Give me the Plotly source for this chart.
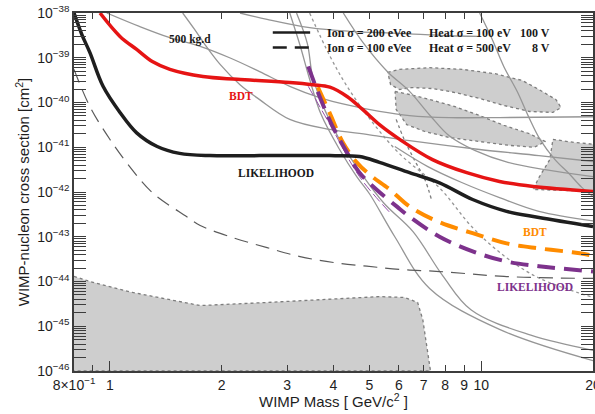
import plotly.graph_objects as go

# ---------------- data ----------------
# thick solid curves (Ion 200 eVee / Heat 100 eV / 100 V)
lik_solid_mass = [0.80, 0.84, 0.883, 0.958, 1.064, 1.18, 1.34, 1.54, 1.86, 2.53, 3.91, 4.70, 5.32, 6.41, 7.72, 9.48, 11.7, 14.3, 20.0]
lik_solid_xs = [1e-38, 3.3e-39, 1.3e-39, 2.3e-40, 6.0e-41, 2.1e-41, 1.04e-41, 7.3e-42, 6.5e-42, 6.5e-42, 6.5e-42, 6.2e-42, 4.6e-42, 2.7e-42, 1.6e-42, 6.8e-43, 3.7e-43, 2.7e-43, 1.7e-43]

bdt_solid_mass = [0.94, 1.064, 1.18, 1.30, 1.45, 1.78, 2.20, 3.05, 3.52, 3.91, 4.35, 4.79, 5.32, 6.03, 7.39, 9.14, 11.2, 13.8, 20.0]
bdt_solid_xs = [1e-38, 3.0e-39, 1.53e-39, 8.2e-40, 5.5e-40, 3.8e-40, 3.3e-40, 2.8e-40, 2.5e-40, 2.2e-40, 1.36e-40, 7.0e-41, 3.2e-41, 1.5e-41, 5.3e-42, 2.7e-42, 1.72e-42, 1.33e-42, 1.03e-42]

# thick dashed curves (Ion 100 eVee / Heat 500 eV / 8 V)
bdt_dash_mass = [3.63, 3.90, 4.24, 4.62, 5.00, 5.67, 6.42, 7.73, 9.48, 11.7, 14.3, 17.6, 20.0]
bdt_dash_xs = [2.2e-40, 6.0e-41, 1.28e-41, 4.6e-42, 2.46e-42, 1.14e-42, 4.7e-43, 2.1e-43, 1.2e-43, 7.1e-44, 5.5e-44, 4.5e-44, 3.8e-44]

lik_dash_mass = [3.42, 3.67, 3.98, 4.35, 4.70, 5.22, 5.93, 6.41, 7.72, 9.48, 11.7, 14.3, 20.0]
lik_dash_xs = [6.4e-40, 1.36e-40, 2.9e-41, 7.6e-42, 2.7e-42, 1.14e-42, 4.7e-43, 2.8e-43, 1.0e-43, 4.7e-44, 2.8e-44, 2.2e-44, 1.67e-44]

lik_thin_mass = [3.42, 3.98, 4.70, 5.67]
lik_thin_xs = [2.3e-40, 2.5e-41, 2.2e-42, 3.5e-43]

# thin long-dashed curve (500 kg.d projection)
proj_mass = [0.80, 0.883, 1.0, 1.13, 1.30, 1.61, 1.75, 2.14, 2.65, 3.25, 4.0, 4.92, 6.07, 7.73, 11.7, 20.0]
proj_xs = [5.5e-40, 8.1e-41, 1.49e-41, 3.7e-42, 9.7e-43, 2.8e-43, 1.78e-43, 9.6e-44, 5.7e-44, 3.6e-44, 2.66e-44, 2.2e-44, 1.85e-44, 1.67e-44, 1.29e-44, 1.17e-44]

# other experiments (thin grey solid lines)
grey_lines = {
    "a": ([0.98, 1.20, 1.45, 1.75, 2.10, 2.53, 3.05, 3.67, 4.42, 5.32, 6.41, 8.2, 11.2, 20.0],
          [1e-38, 5.0e-39, 2.8e-39, 1.8e-39, 1.0e-39, 4.9e-40, 2.3e-40, 1.29e-40, 8.6e-41, 6.3e-41, 5.1e-41, 4.6e-41, 4.6e-41, 4.8e-41]),
    "b": ([1.57, 1.69, 1.80, 1.98, 2.24, 2.53, 3.05, 3.91, 5.0, 6.41, 9.9, 14.3, 20.0],
          [1e-38, 4.3e-39, 2.0e-39, 7.1e-40, 2.5e-40, 1.16e-40, 4.2e-41, 2.5e-41, 1.9e-41, 1.4e-41, 8.9e-42, 6.5e-42, 4.8e-42]),
    "c": ([4.25, 4.80, 5.6, 6.4, 7.3, 8.2, 9.6, 11.8, 20.0],
          [1e-38, 2.2e-39, 4.8e-40, 1.8e-40, 5.0e-41, 1.8e-41, 8.5e-42, 4.6e-42, 2.2e-42]),
    "d": ([9.9, 10.7, 11.5, 12.5, 13.4, 14.4, 15.8, 17.3, 18.6, 20.0],
          [1e-38, 2.6e-39, 6.4e-40, 1.76e-40, 4.9e-41, 1.5e-41, 5.3e-42, 2.5e-42, 1.3e-42, 7.9e-43]),
    "e": ([2.24, 2.65, 3.45, 4.42, 6.03, 8.2, 9.8],
          [1e-38, 7.2e-39, 4.7e-39, 3.9e-39, 3.5e-39, 3.1e-39, 3.0e-39]),
    "f": ([5.85, 7.18, 8.86, 11.2, 14.3, 20.5],
          [1.04e-41, 3.7e-42, 1.63e-42, 7.5e-43, 3.7e-43, 2.2e-43]),
    "s1": ([3.18, 3.40, 3.52, 3.80, 4.21, 4.75, 5.47, 6.55, 7.88, 9.4, 13.6, 20.0],
           [1e-38, 2.1e-39, 3.6e-40, 6.5e-41, 1.2e-41, 2.6e-42, 5.6e-43, 1.3e-43, 1.34e-44, 2.3e-45, 6.3e-46, 2.9e-46]),
    "s2": ([3.05, 3.25, 3.45, 3.70, 4.15, 4.62, 5.01, 5.85, 7.26, 11.2, 20.0],
           [1e-38, 1.9e-39, 3.3e-40, 5.5e-41, 9.0e-42, 2.2e-42, 8.9e-43, 1.0e-43, 7.0e-45, 8.5e-46, 1.7e-46]),
}

# dotted grey curves
dot_mass = [3.45, 3.91, 4.35, 5.01, 6.03, 7.73, 9.48, 11.7, 14.3, 20.0]
dot_xs = [1e-38, 1.1e-39, 2.3e-40, 4.3e-41, 7.1e-42, 1.22e-42, 1.6e-43, 3.4e-44, 1.2e-44, 4.4e-45]

contour_mass = [5.9, 6.2, 6.6, 7.05, 7.34]
contour_xs = [4.2e-41, 1.5e-41, 5.3e-42, 1.9e-42, 6.8e-43]

# shaded regions
floor_mass = [0.80, 0.883, 1.15, 1.75, 2.65, 4.0, 5.33, 6.22, 6.74, 6.96, 7.13, 7.30]
floor_xs = [1.3e-44, 1.0e-44, 5.7e-45, 2.9e-45, 3.4e-45, 4.0e-45, 4.6e-45, 4.4e-45, 3.4e-45, 1.4e-45, 3.9e-46, 1e-46]

regionA_mass = [5.6, 6.03, 7.26, 8.9, 10.9, 12.9, 14.3, 15.9, 16.4, 15.6, 13.5, 11.5, 9.9, 8.5, 7.4, 6.5, 6.03, 5.7]
regionA_xs = [4.7e-40, 5.5e-40, 6.0e-40, 5.5e-40, 4.4e-40, 3.1e-40, 1.95e-40, 1.16e-40, 7.7e-41, 6.0e-41, 6.3e-41, 8.6e-41, 1.23e-40, 1.67e-40, 2.05e-40, 2.16e-40, 1.95e-40, 2.5e-40]

regionB_mass = [5.86, 6.41, 7.26, 8.5, 9.9, 11.5, 13.5, 14.9, 13.9, 11.9, 9.9, 8.2, 7.05, 6.3, 5.9]
regionB_xs = [1.76e-40, 1.51e-40, 1.17e-40, 8.1e-41, 5.1e-41, 3.1e-41, 2.0e-41, 1.34e-41, 1.0e-41, 1.1e-41, 1.34e-41, 1.65e-41, 2.25e-41, 3.2e-41, 7.0e-41]

regionC_mass = [15.6, 17.8, 20.5, 20.5, 13.8, 14.3, 15.3]
regionC_xs = [1.5e-41, 1.28e-41, 1.15e-41, 1.03e-42, 1.14e-42, 2.1e-42, 5.3e-42]

x_tickvals = [0.8, 1, 2, 3, 4, 5, 6, 7, 8, 9, 10, 20]
x_ticktext = ["8×10<sup>−1</sup>", "1", "2", "3", "4", "5", "6", "7", "8", "9", "10", "20"]
x_minor_ticks = [0.9]
x_long_ticks = [1, 10]
y_exponents = [-38, -39, -40, -41, -42, -43, -44, -45, -46]

# ---------------- figure ----------------
GREY = "rgb(150,150,150)"
FILL = "rgb(206,206,206)"
EDGE = "rgb(125,125,125)"
AX = "rgb(60,60,60)"

fig = go.Figure()

def region(mx, sx):
    fig.add_trace(go.Scatter(x=mx + [mx[0]], y=sx + [sx[0]], mode="lines", fill="toself",
                             fillcolor=FILL, line=dict(color=EDGE, width=1.3, dash="dot"),
                             hoverinfo="skip", showlegend=False))

fig.add_trace(go.Scatter(x=floor_mass + [floor_mass[0]], y=floor_xs + [1e-46], mode="lines",
                         fill="toself", fillcolor=FILL, line=dict(color=EDGE, width=1.3, dash="dot"),
                         hoverinfo="skip", showlegend=False))
region(regionA_mass, regionA_xs)
region(regionB_mass, regionB_xs)
region(regionC_mass, regionC_xs)

fig.add_trace(go.Scatter(x=contour_mass, y=contour_xs, mode="lines",
                         line=dict(color=EDGE, width=1.3, dash="dot", shape="spline"),
                         hoverinfo="skip", showlegend=False))

for key, (mx, sx) in grey_lines.items():
    fig.add_trace(go.Scatter(x=mx, y=sx, mode="lines", line=dict(color=GREY, width=1.3, shape="spline"),
                             hoverinfo="skip", showlegend=False))

fig.add_trace(go.Scatter(x=dot_mass, y=dot_xs, mode="lines",
                         line=dict(color=GREY, width=1.3, dash="dot", shape="spline"), showlegend=False))

fig.add_trace(go.Scatter(x=proj_mass, y=proj_xs, mode="lines",
                         line=dict(color="rgb(90,90,90)", width=1.2, dash="14px,8px", shape="spline"),
                         showlegend=False))

fig.add_trace(go.Scatter(x=lik_thin_mass, y=lik_thin_xs, mode="lines",
                         line=dict(color="rgb(150,80,170)", width=1.0, dash="10px,4px", shape="spline"),
                         showlegend=False))

fig.add_trace(go.Scatter(x=bdt_dash_mass, y=bdt_dash_xs, mode="lines",
                         line=dict(color="rgb(255,140,0)", width=4, dash="18px,9px", shape="spline"),
                         showlegend=False))
fig.add_trace(go.Scatter(x=lik_dash_mass, y=lik_dash_xs, mode="lines",
                         line=dict(color="rgb(125,50,140)", width=4, dash="18px,9px", shape="spline"),
                         showlegend=False))
fig.add_trace(go.Scatter(x=lik_solid_mass, y=lik_solid_xs, mode="lines",
                         line=dict(color="rgb(30,30,30)", width=3.5, shape="spline"), showlegend=False))
fig.add_trace(go.Scatter(x=bdt_solid_mass, y=bdt_solid_xs, mode="lines",
                         line=dict(color="rgb(230,20,20)", width=3.5, shape="spline"), showlegend=False))

# invisible trace on the overlay axis that carries the long ticks at 1 and 10
fig.add_trace(go.Scatter(x=x_long_ticks, y=[1e-46, 1e-46], xaxis="x2", mode="markers",
                         marker=dict(opacity=0), hoverinfo="skip", showlegend=False))

# ---------------- legend (drawn) ----------------
serif = "Liberation Serif"
fig.add_shape(type="line", xref="paper", yref="paper", x0=0.383, x1=0.455, y0=0.9455, y1=0.9455,
              line=dict(color="rgb(30,30,30)", width=2.5))
fig.add_shape(type="line", xref="paper", yref="paper", x0=0.383, x1=0.455, y0=0.9036, y1=0.9036,
              line=dict(color="rgb(30,30,30)", width=2.5, dash="14px,8px"))

legend_rows = [
    ("Ion σ = 200 eVee", "Heat σ = 100 eV", "100 V", 0.9455),
    ("Ion σ = 100 eVee", "Heat σ = 500 eV", "8 V", 0.9036),
]
for ion, heat, volt, yy in legend_rows:
    for txt, xx, anc in ((ion, 0.484, "left"), (heat, 0.680, "left"), (volt, 0.921, "right")):
        fig.add_annotation(text="<b>%s</b>" % txt, xref="paper", yref="paper", x=xx, y=yy,
                           xanchor=anc, yanchor="middle", showarrow=False,
                           font=dict(family=serif, size=12, color="rgb(25,25,25)"))

labels = [
    ("500 kg.d", 0.2235, 0.926, "rgb(25,25,25)"),
    ("BDT", 0.322, 0.767, "rgb(230,20,20)"),
    ("LIKELIHOOD", 0.389, 0.554, "rgb(25,25,25)"),
    ("BDT", 0.888, 0.387, "rgb(255,140,0)"),
    ("LIKELIHOOD", 0.888, 0.236, "rgb(125,50,140)"),
]
for txt, xx, yy, col in labels:
    fig.add_annotation(text="<b>%s</b>" % txt, xref="paper", yref="paper", x=xx, y=yy,
                       xanchor="center", yanchor="middle",
                       showarrow=False, font=dict(family=serif, size=11.5, color=col))

# x-axis title (placed as text below the tick labels)
fig.add_annotation(text="WIMP Mass [ GeV/c<sup>2</sup> ]", xref="paper", yref="paper", x=0.5, y=-0.083,
                   xanchor="center", yanchor="middle", showarrow=False,
                   font=dict(family="Liberation Sans", size=15, color="rgb(30,30,30)"))

minor_y = [k * 10.0 ** e for e in range(-46, -38) for k in range(2, 10)]
xrange_log = [-0.09691, 1.30103]

fig.update_layout(
    width=595, height=414,
    margin=dict(l=74, r=2, t=13, b=43),
    paper_bgcolor="white", plot_bgcolor="white",
    font=dict(family="Liberation Sans", size=14, color="rgb(30,30,30)"),
    xaxis=dict(type="log", range=xrange_log, tickvals=x_tickvals, ticktext=x_ticktext,
               ticks="inside", ticklen=6, tickwidth=1, tickcolor=AX, ticklabeloverflow="allow",
               automargin=False,
               minor=dict(ticks="inside", ticklen=6, tickvals=x_minor_ticks, tickcolor=AX),
               showline=True, linecolor=AX, linewidth=1.5, mirror="allticks",
               showgrid=False, zeroline=False, tickfont=dict(size=14)),
    xaxis2=dict(type="log", range=xrange_log, overlaying="x", side="bottom", tickvals=x_long_ticks,
                showticklabels=False, ticks="inside", ticklen=10, tickwidth=1, tickcolor=AX,
                automargin=False, mirror="allticks", showline=False, showgrid=False, zeroline=False),
    yaxis=dict(type="log", range=[-46, -38], tickvals=[10.0 ** e for e in y_exponents],
               ticktext=["10<sup>−%d</sup>" % (-e) for e in y_exponents],
               ticks="inside", ticklen=12, tickwidth=1, tickcolor=AX, automargin=False,
               minor=dict(ticks="inside", ticklen=7, tickvals=minor_y, tickcolor=AX),
               showline=True, linecolor=AX, linewidth=1.5, mirror="allticks",
               showgrid=False, zeroline=False,
               title=dict(text="WIMP-nucleon cross section [cm<sup>2</sup>]", font=dict(size=15), standoff=4),
               tickfont=dict(size=14)),
)

fig.write_html("out.html", config={"displayModeBar": False},
               post_script="document.body.style.margin='0';document.body.style.overflow='hidden';")
